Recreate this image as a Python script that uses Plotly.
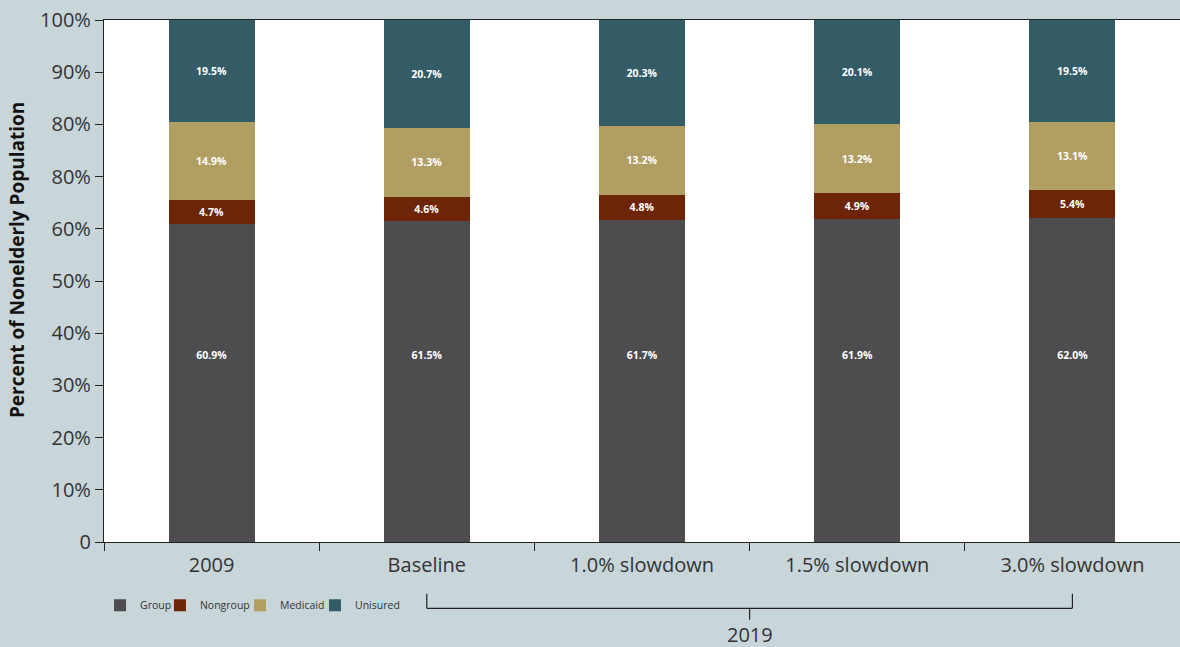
import plotly.graph_objects as go

categories = ["2009", "Baseline", "1.0% slowdown", "1.5% slowdown", "3.0% slowdown"]
group = [60.9, 61.5, 61.7, 61.9, 62.0]
nongroup = [4.7, 4.6, 4.8, 4.9, 5.4]
medicaid = [14.9, 13.3, 13.2, 13.2, 13.1]
uninsured = [19.5, 20.7, 20.3, 20.1, 19.5]
series_names = ["Group", "Nongroup", "Medicaid", "Unisured"]
series_colors = ["#4d4d4f", "#6e2407", "#b09e62", "#335c66"]
y_tickvals = [0, 10, 20, 30, 40, 50, 60, 70, 80, 90, 100]
y_ticktext = ["0", "10%", "20%", "30%", "40%", "50%", "60%", "80%", "80%", "90%", "100%"]

FONT = "Open Sans"
GROUP_LABEL_LEVEL = 35.6  # the Group value labels sit at one common height
legend_ids = ["legend", "legend2", "legend3", "legend4"]
legend_x = [-0.0037, 0.0520, 0.1264, 0.1961]
label_font = dict(color="white", size=10.5, family=FONT, weight="bold")

fig = go.Figure()
for i, (name, vals, col, lid) in enumerate(zip(series_names, [group, nongroup, medicaid, uninsured], series_colors, legend_ids)):
    fig.add_trace(go.Bar(
        x=categories, y=vals, name=name, marker=dict(color=col, line=dict(width=0)),
        width=0.4, texttemplate="%{y:.1f}%" if i > 0 else None,
        textposition="inside" if i > 0 else "none",
        insidetextanchor="middle", constraintext="none",
        textfont=label_font, hoverinfo="skip", legend=lid,
    ))
# Group labels
fig.add_trace(go.Scatter(
    x=categories, y=[GROUP_LABEL_LEVEL] * len(categories), mode="text",
    text=[f"{v:.1f}%" for v in group], textfont=label_font,
    showlegend=False, hoverinfo="skip",
))

legend_common = dict(orientation="h", xanchor="left", y=-0.121, yanchor="middle",
                     font=dict(size=10.5, color="#333333"), bgcolor="rgba(0,0,0,0)",
                     itemwidth=30)
fig.update_layout(
    barmode="stack", width=1180, height=647,
    margin=dict(l=104, r=0, t=20, b=105),
    paper_bgcolor="#c9d6d9", plot_bgcolor="white",
    font=dict(family=FONT, color="#333333"),
    showlegend=True,
    **{lid: dict(x=lx, **legend_common) for lid, lx in zip(legend_ids, legend_x)},
)
fig.update_xaxes(
    range=[-0.5, 4.5], showgrid=False, showline=True, linecolor="#222222", linewidth=1.2,
    mirror=True, ticks="outside", tickson="boundaries", ticklen=8, tickcolor="#222222",
    tickfont=dict(size=20, color="#333333"), ticklabelstandoff=5,
)
fig.update_yaxes(
    range=[0, 100], showgrid=False, showline=True, linecolor="#222222", linewidth=1.2,
    ticks="outside", ticklen=8, tickcolor="#222222", tickvals=y_tickvals, ticktext=y_ticktext,
    tickfont=dict(size=20, color="#333333"), zeroline=False,
)
# y-axis title
fig.add_annotation(
    text="<b>Percent of Nonelderly Population</b>", textangle=-90,
    xref="paper", yref="paper", x=-0.0809, y=0.54, xanchor="center", yanchor="middle",
    showarrow=False, font=dict(size=19, color="#111111", family=FONT),
)
# 2019 bracket
line_style = dict(color="#222222", width=1.2)
fig.add_shape(type="line", xref="x", yref="paper", x0=1, x1=4, y0=-0.127, y1=-0.127, line=line_style)
fig.add_shape(type="line", xref="x", yref="paper", x0=1, x1=1, y0=-0.099, y1=-0.127, line=line_style)
fig.add_shape(type="line", xref="x", yref="paper", x0=4, x1=4, y0=-0.099, y1=-0.127, line=line_style)
fig.add_shape(type="line", xref="x", yref="paper", x0=2.5, x1=2.5, y0=-0.127, y1=-0.149, line=line_style)
fig.add_annotation(text="2019", xref="x", yref="paper", x=2.5, y=-0.178, showarrow=False,
                   yanchor="middle", font=dict(size=20, color="#333333", family=FONT))

fig.write_html("out.html", config={"displayModeBar": False},
               post_script="document.body.style.margin='0';document.body.style.overflow='hidden';")
